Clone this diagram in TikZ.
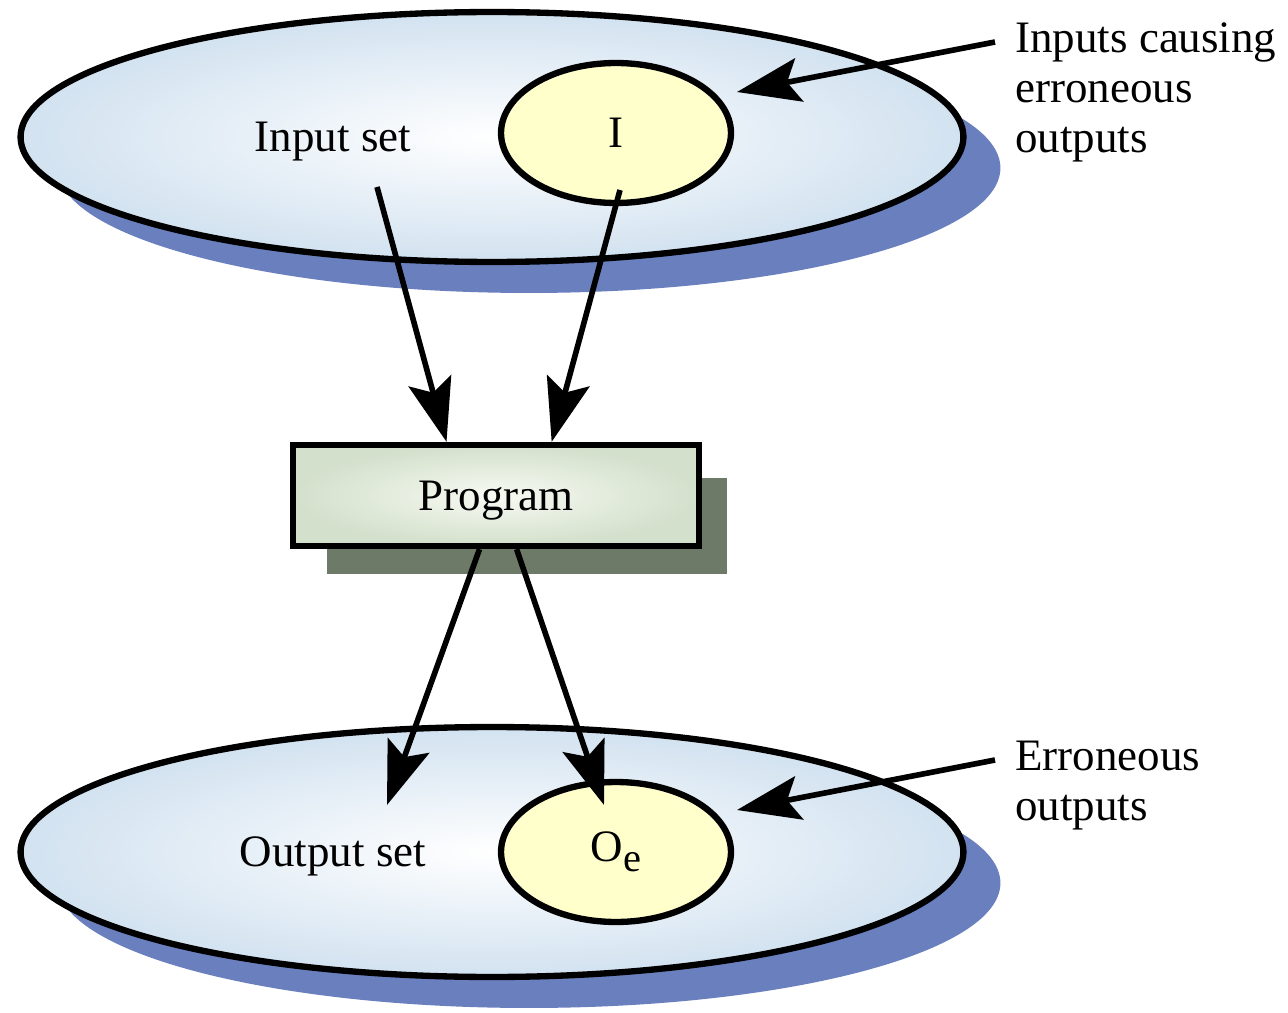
\documentclass[tikz,border=0pt]{standalone}
\usepackage{fontspec}
\setmainfont{Liberation Serif}
\usetikzlibrary{arrows.meta}
\usetikzlibrary{shapes.geometric}
\usetikzlibrary{calc}

\definecolor{shadowblue}{HTML}{6A80BE}
\definecolor{setblue}{HTML}{D2E2F0}
\definecolor{errfill}{HTML}{FFFFCC}
\definecolor{progouter}{HTML}{D3E0CB}
\definecolor{proginner}{HTML}{F7FAF3}
\definecolor{progshadow}{HTML}{6E7A68}

\tikzset{
  bigfont/.style={font=\fontsize{25.6}{28.5}\selectfont},
  setshadow/.style={ellipse, fill=shadowblue, minimum width=18.86cm, minimum height=5cm, inner sep=0},
  setellipse/.style={ellipse, draw, line width=3.6pt, shading=radial, inner color=white, outer color=setblue,
    minimum width=18.86cm, minimum height=5cm, inner sep=0},
  errellipse/.style={ellipse, draw, line width=3.6pt, fill=errfill, minimum width=4.6cm, minimum height=2.8cm,
    inner sep=0, bigfont},
  progbox/.style={rectangle, draw, line width=3.6pt, shading=radial, inner color=proginner, outer color=progouter,
    minimum width=8.12cm, minimum height=2.02cm, text height=23pt, text depth=5.6pt, bigfont},
  arrowline/.style={->, line width=3.2pt},
  sidelabel/.style={anchor=north west, align=left, inner sep=0, bigfont}
}

\begin{document}
\begin{tikzpicture}[x=0.02cm, y=-0.02cm, >={Stealth[length=36pt,width=25pt,inset=7pt]}]
  \useasboundingbox (0,0) rectangle (1288,1013);

  % shadows
  \node[setshadow] (inshadow) at (529,168) {};
  \node[setshadow] (outshadow) at (529,883) {};
  \fill[progshadow] (327,478) rectangle (727,574);

  % sets
  \node[setellipse] (inputs) at (492,137) {};
  \node[setellipse] (outputs) at (492,852) {};
  \node[errellipse] (ierr) at (616,133) {I};
  \node[errellipse] (oerr) at (616,852) {O\raisebox{-0.22em}{\fontsize{23}{23}\selectfont e}};
  \node[bigfont] (inlabel) at (333,142) {Input set};
  \node[bigfont] (outlabel) at (333,856) {Output set};

  % program
  \node[progbox] (prog) at (496,495.5) {Program};

  % side labels
  \node[sidelabel] (inerrlabel) at (1015,22) {Inputs causing\\erroneous\\outputs};
  \node[sidelabel] (outerrlabel) at (1015,741) {Erroneous\\outputs};

  \coordinate (infrom) at (377,187);
  \coordinate (ierrfrom) at (620,190);
  \coordinate (outto) at (387,805);
  \coordinate (oerrto) at (604,805);
  \coordinate (inerrfrom) at (995,42);
  \coordinate (inerrto) at (737,92);
  \coordinate (outerrfrom) at (995,760);
  \coordinate (outerrto) at (737,810);

  \draw[arrowline] (infrom) -- ($(prog.north west)!0.38!(prog.north east)$);
  \draw[arrowline] (ierrfrom) -- ($(prog.north west)!0.635!(prog.north east)$);
  \draw[arrowline] ($(prog.south west)!0.46!(prog.south east)$) -- (outto);
  \draw[arrowline] ($(prog.south west)!0.55!(prog.south east)$) -- (oerrto);
  \draw[arrowline] (inerrfrom) -- (inerrto);
  \draw[arrowline] (outerrfrom) -- (outerrto);
\end{tikzpicture}
\end{document}
